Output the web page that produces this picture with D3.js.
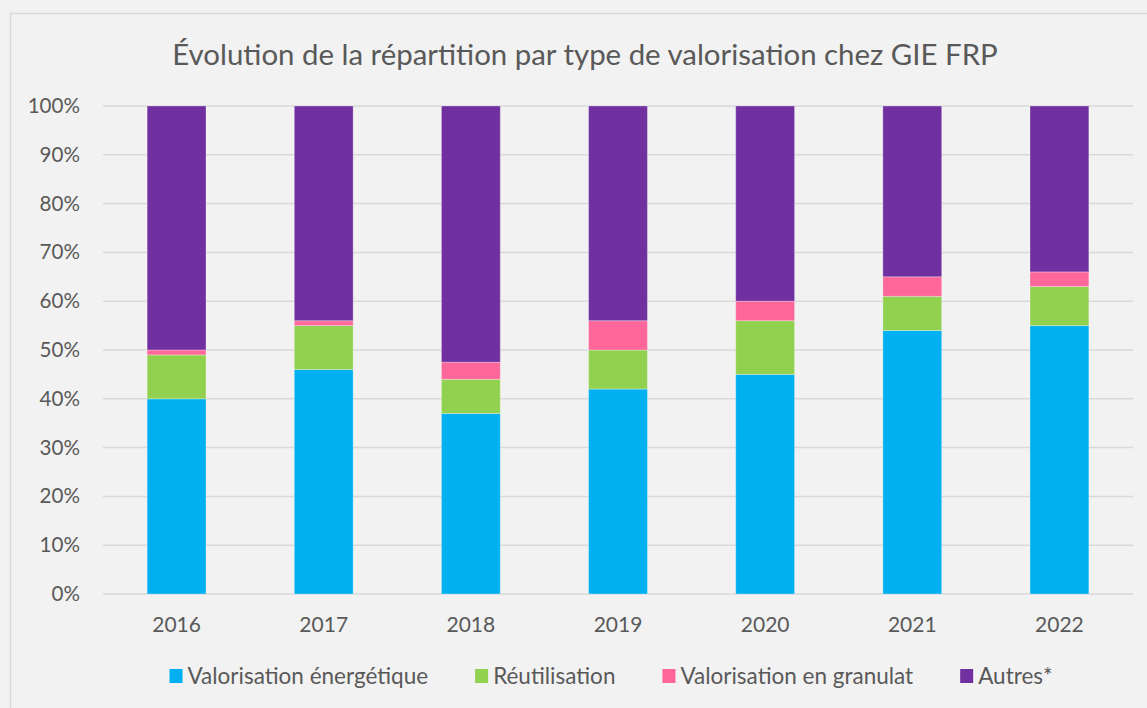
<!DOCTYPE html>
<html>
<head>
<meta charset="utf-8">
<script src="https://cdn.jsdelivr.net/npm/d3@7"></script>
<style>
  body { margin: 0; background: #f2f2f2; }
  text { font-family: Lato, "Open Sans", sans-serif; fill: #595959; }
</style>
</head>
<body>
<script>
var years = ["2016", "2017", "2018", "2019", "2020", "2021", "2022"];
var series = ["Valorisation énergétique", "Réutilisation", "Valorisation en granulat", "Autres*"];
var energetique = [40, 46, 37, 42, 45, 54, 55];
var reutilisation = [9, 9, 7, 8, 11, 7, 8];
var granulat = [1, 1, 3.5, 6, 4, 4, 3];
var autres = [50, 44, 52.5, 44, 40, 35, 34];
var yTicks = [0, 10, 20, 30, 40, 50, 60, 70, 80, 90, 100];

var W = 1147, H = 708;
var margin = {top: 106, right: 14, bottom: 114, left: 103},
    width = W - margin.left - margin.right,
    height = H - margin.top - margin.bottom;

var svg = d3.select("body").append("svg")
    .attr("width", W)
    .attr("height", H);

// chart area frame
svg.append("rect")
    .attr("x", 10.5).attr("y", 13.5)
    .attr("width", W).attr("height", H)
    .attr("fill", "#f2f2f2")
    .attr("stroke", "#d9d9d9")
    .attr("stroke-width", 1.5);

svg.append("text")
    .attr("x", 585)
    .attr("y", 65)
    .attr("text-anchor", "middle")
    .attr("font-size", "29.4px")
    .text("Évolution de la répartition par type de valorisation chez GIE FRP");

var g = svg.append("g")
    .attr("transform", "translate(" + margin.left + "," + margin.top + ")");

var x = d3.scaleBand()
    .domain(years)
    .range([0, width])
    .paddingInner(0.6)
    .paddingOuter(0.3);

var y = d3.scaleLinear()
    .domain([0, 100])
    .range([height, 0]);

var color = d3.scaleOrdinal()
    .domain(series)
    .range(["#00b0f0", "#92d050", "#ff6699", "#7030a0"]);

// gridlines
g.selectAll(".grid")
    .data(yTicks)
  .enter().append("line")
    .attr("x1", 0).attr("x2", width)
    .attr("y1", function(d) { return y(d); })
    .attr("y2", function(d) { return y(d); })
    .attr("stroke", "#d9d9d9")
    .attr("stroke-width", 1.5);

var yAxis = g.append("g")
    .call(d3.axisLeft(y).tickValues(yTicks).tickFormat(function(d) { return d + "%"; }).tickSize(0).tickPadding(23));
yAxis.select(".domain").remove();
yAxis.selectAll("text").attr("font-size", "20.6px").attr("fill", "#595959").style("font-family", "Lato, sans-serif");

var rows = years.map(function(yr, i) {
    return {year: yr,
        "Valorisation énergétique": energetique[i],
        "Réutilisation": reutilisation[i],
        "Valorisation en granulat": granulat[i],
        "Autres*": autres[i]};
});
var stacked = d3.stack().keys(series)(rows);

g.selectAll(".serie")
    .data(stacked)
  .enter().append("g")
    .attr("fill", function(d) { return color(d.key); })
  .selectAll("rect")
    .data(function(d) { return d; })
  .enter().append("rect")
    .attr("x", function(d) { return x(d.data.year); })
    .attr("y", function(d) { return y(d[1]); })
    .attr("width", x.bandwidth())
    .attr("height", function(d) { return y(d[0]) - y(d[1]); })
    .attr("stroke", "#ffffff")
    .attr("stroke-opacity", 0.3)
    .attr("stroke-width", 1);

var xAxis = g.append("g")
    .attr("transform", "translate(0," + height + ")")
    .call(d3.axisBottom(x).tickSize(0).tickPadding(23));
xAxis.select(".domain").remove();
xAxis.selectAll("text").attr("font-size", "21px").attr("fill", "#595959").style("font-family", "Lato, sans-serif");

// legend, centred under the plot
var legend = svg.append("g");
var items = legend.selectAll(".legend")
    .data(series)
  .enter().append("g");
items.append("rect")
    .attr("y", 669)
    .attr("width", 13)
    .attr("height", 14)
    .attr("fill", function(d) { return color(d); });
items.append("text")
    .attr("x", 18)
    .attr("y", 684)
    .attr("font-size", "22.5px")
    .text(function(d) { return d; });

var pos = 0;
items.each(function() {
    var w = d3.select(this).select("text").node().getComputedTextLength();
    d3.select(this).attr("transform", "translate(" + pos + ",0)");
    pos += 18 + w + 47;
});
pos -= 47;
legend.attr("transform", "translate(" + (611 - pos / 2) + ",0)");
</script>
</body>
</html>
